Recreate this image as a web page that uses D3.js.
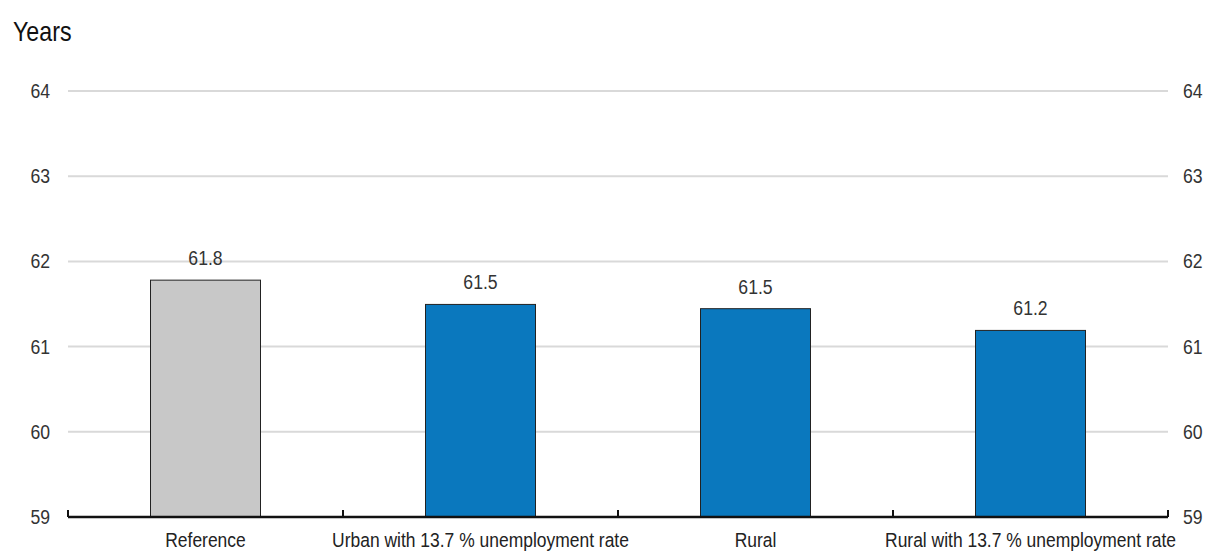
<!DOCTYPE html>
<html><head><meta charset="utf-8">
<script src="https://cdn.jsdelivr.net/npm/d3@7"></script>
<style>body{margin:0;background:#fff}svg{display:block}text{font-family:"Liberation Sans",Arial,sans-serif}</style>
</head><body>
<svg id="c" width="1211" height="552"></svg>
<script>
const categories = ["Reference","Urban with 13.7 % unemployment rate","Rural","Rural with 13.7 % unemployment rate"];
const values = [61.78, 61.495, 61.445, 61.19];
const valueLabels = ["61.8","61.5","61.5","61.2"];
const barColors = ["#c8c8c8","#0a78be","#0a78be","#0a78be"];
const yTicks = [59,60,61,62,63,64];
const yTitle = "Years";

const svg = d3.select("#c");
const L = 68, R = 1168, T = 91, B = 517;
const x = d3.scaleBand().domain(categories).range([L,R]).padding(0);
const y = d3.scaleLinear().domain([59,64]).range([B,T]);
const sx = 0.86;

// gridlines
svg.append("g").selectAll("line").data(yTicks.filter(d=>d>59)).join("line")
  .attr("x1",L).attr("x2",R).attr("y1",d=>y(d)).attr("y2",d=>y(d))
  .attr("stroke","#d9d9d9").attr("stroke-width",2);

// tick labels left & right
function lab(g, xpos, anchor){
  g.selectAll("text").data(yTicks).join("text")
   .attr("transform",d=>`translate(${xpos},${y(d)+7}) scale(${sx},1)`)
   .attr("text-anchor",anchor).attr("font-size",20.5).attr("fill","#333").text(d=>d);
}
lab(svg.append("g"), 50, "end");
lab(svg.append("g"), 1183, "start");

svg.append("text").attr("transform",`translate(13,41) scale(${sx},1)`)
  .attr("font-size",27).attr("fill","#111").text(yTitle);

// bars
const bw = x.bandwidth()*0.4;
svg.append("g").selectAll("rect").data(categories).join("rect")
  .attr("x",d=>x(d)+x.bandwidth()/2-bw/2).attr("width",bw)
  .attr("y",(d,i)=>y(values[i])).attr("height",(d,i)=>B-y(values[i]))
  .attr("fill",(d,i)=>barColors[i]).attr("stroke","#222").attr("stroke-width",1);

// value labels
svg.append("g").selectAll("text").data(categories).join("text")
  .attr("transform",(d,i)=>`translate(${x(d)+x.bandwidth()/2},${y(values[i])-15}) scale(${sx},1)`)
  .attr("text-anchor","middle").attr("font-size",20.5).attr("fill","#333").text((d,i)=>valueLabels[i]);

// x axis
const xa = svg.append("g").attr("transform",`translate(0,${B})`)
  .call(d3.axisBottom(x).tickSize(0).tickFormat(""));
xa.select(".domain").attr("stroke","#111").attr("stroke-width",2.5).attr("d",`M${L},0H${R}`);
xa.selectAll(".tick").remove();
const bounds = categories.map(d=>x(d)).concat([R]);
svg.append("g").selectAll("line").data(bounds).join("line")
  .attr("x1",d=>d).attr("x2",d=>d).attr("y1",B).attr("y2",B-7)
  .attr("stroke","#111").attr("stroke-width",2);

svg.append("g").selectAll("text").data(categories).join("text")
  .attr("transform",d=>`translate(${x(d)+x.bandwidth()/2},${B+30}) scale(0.895,1)`)
  .attr("text-anchor","middle").attr("font-size",19.5).attr("fill","#222").text(d=>d);
</script>
</body></html>
